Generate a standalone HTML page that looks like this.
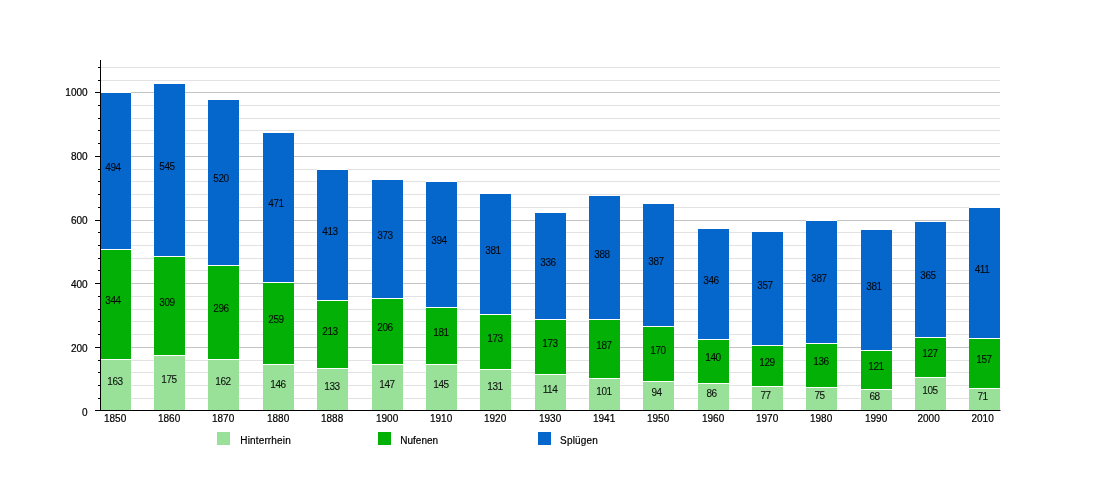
<!DOCTYPE html>
<html><head><meta charset="utf-8"><title>Chart</title>
<style>html,body{margin:0;padding:0;background:#fff}svg{display:block}text{font-family:"Liberation Sans",sans-serif;font-size:10px;fill:#000;stroke:#000;stroke-width:0.2px}text.b{letter-spacing:-0.4px;stroke-width:0.1px;opacity:0.92}</style></head>
<body>
<svg width="1100" height="500" viewBox="0 0 1100 500">
<rect width="1100" height="500" fill="#fff"/>
<line x1="101" x2="1000" y1="398.50" y2="398.50" stroke="#e2e2e2" stroke-width="1"/>
<line x1="101" x2="1000" y1="385.50" y2="385.50" stroke="#e2e2e2" stroke-width="1"/>
<line x1="101" x2="1000" y1="372.50" y2="372.50" stroke="#e2e2e2" stroke-width="1"/>
<line x1="101" x2="1000" y1="360.50" y2="360.50" stroke="#e2e2e2" stroke-width="1"/>
<line x1="101" x2="1000" y1="347.50" y2="347.50" stroke="#c4c4c4" stroke-width="1"/>
<line x1="101" x2="1000" y1="334.50" y2="334.50" stroke="#e2e2e2" stroke-width="1"/>
<line x1="101" x2="1000" y1="321.50" y2="321.50" stroke="#e2e2e2" stroke-width="1"/>
<line x1="101" x2="1000" y1="309.50" y2="309.50" stroke="#e2e2e2" stroke-width="1"/>
<line x1="101" x2="1000" y1="296.50" y2="296.50" stroke="#e2e2e2" stroke-width="1"/>
<line x1="101" x2="1000" y1="283.50" y2="283.50" stroke="#c4c4c4" stroke-width="1"/>
<line x1="101" x2="1000" y1="270.50" y2="270.50" stroke="#e2e2e2" stroke-width="1"/>
<line x1="101" x2="1000" y1="258.50" y2="258.50" stroke="#e2e2e2" stroke-width="1"/>
<line x1="101" x2="1000" y1="245.50" y2="245.50" stroke="#e2e2e2" stroke-width="1"/>
<line x1="101" x2="1000" y1="232.50" y2="232.50" stroke="#e2e2e2" stroke-width="1"/>
<line x1="101" x2="1000" y1="220.50" y2="220.50" stroke="#c4c4c4" stroke-width="1"/>
<line x1="101" x2="1000" y1="207.50" y2="207.50" stroke="#e2e2e2" stroke-width="1"/>
<line x1="101" x2="1000" y1="194.50" y2="194.50" stroke="#e2e2e2" stroke-width="1"/>
<line x1="101" x2="1000" y1="181.50" y2="181.50" stroke="#e2e2e2" stroke-width="1"/>
<line x1="101" x2="1000" y1="169.50" y2="169.50" stroke="#e2e2e2" stroke-width="1"/>
<line x1="101" x2="1000" y1="156.50" y2="156.50" stroke="#c4c4c4" stroke-width="1"/>
<line x1="101" x2="1000" y1="143.50" y2="143.50" stroke="#e2e2e2" stroke-width="1"/>
<line x1="101" x2="1000" y1="130.50" y2="130.50" stroke="#e2e2e2" stroke-width="1"/>
<line x1="101" x2="1000" y1="118.50" y2="118.50" stroke="#e2e2e2" stroke-width="1"/>
<line x1="101" x2="1000" y1="105.50" y2="105.50" stroke="#e2e2e2" stroke-width="1"/>
<line x1="101" x2="1000" y1="92.50" y2="92.50" stroke="#c4c4c4" stroke-width="1"/>
<line x1="101" x2="1000" y1="80.50" y2="80.50" stroke="#e2e2e2" stroke-width="1"/>
<line x1="101" x2="1000" y1="67.50" y2="67.50" stroke="#e2e2e2" stroke-width="1"/>
<rect x="100" y="360" width="31" height="51" fill="#99e099"/>
<rect x="100" y="359" width="31" height="1" fill="#fff"/>
<rect x="100" y="250" width="31" height="109" fill="#03b005"/>
<rect x="100" y="249" width="31" height="1" fill="#fff"/>
<rect x="100" y="93" width="31" height="156" fill="#0566cc"/>
<rect x="100" y="92" width="31" height="1" fill="#fff"/>
<text class="b" x="115.00" y="384.97" text-anchor="middle">163</text>
<text class="b" x="113.00" y="304.31" text-anchor="middle">344</text>
<text class="b" x="113.00" y="170.99" text-anchor="middle">494</text>
<text x="115.10" y="422" text-anchor="middle">1850</text>
<rect x="154" y="356" width="31" height="55" fill="#99e099"/>
<rect x="154" y="355" width="31" height="1" fill="#fff"/>
<rect x="154" y="257" width="31" height="98" fill="#03b005"/>
<rect x="154" y="256" width="31" height="1" fill="#fff"/>
<rect x="154" y="84" width="31" height="172" fill="#0566cc"/>
<rect x="154" y="83" width="31" height="1" fill="#fff"/>
<text class="b" x="169.00" y="383.06" text-anchor="middle">175</text>
<text class="b" x="167.00" y="306.06" text-anchor="middle">309</text>
<text class="b" x="167.00" y="170.20" text-anchor="middle">545</text>
<text x="169.10" y="422" text-anchor="middle">1860</text>
<rect x="208" y="360" width="31" height="51" fill="#99e099"/>
<rect x="208" y="359" width="31" height="1" fill="#fff"/>
<rect x="208" y="266" width="31" height="93" fill="#03b005"/>
<rect x="208" y="265" width="31" height="1" fill="#fff"/>
<rect x="208" y="100" width="31" height="165" fill="#0566cc"/>
<rect x="208" y="99" width="31" height="1" fill="#fff"/>
<text class="b" x="223.00" y="385.13" text-anchor="middle">162</text>
<text class="b" x="221.00" y="312.26" text-anchor="middle">296</text>
<text class="b" x="221.00" y="182.45" text-anchor="middle">520</text>
<text x="223.10" y="422" text-anchor="middle">1870</text>
<rect x="263" y="365" width="31" height="46" fill="#99e099"/>
<rect x="263" y="364" width="31" height="1" fill="#fff"/>
<rect x="263" y="283" width="31" height="81" fill="#03b005"/>
<rect x="263" y="282" width="31" height="1" fill="#fff"/>
<rect x="263" y="133" width="31" height="149" fill="#0566cc"/>
<rect x="263" y="132" width="31" height="1" fill="#fff"/>
<text class="b" x="278.00" y="387.67" text-anchor="middle">146</text>
<text class="b" x="276.00" y="323.24" text-anchor="middle">259</text>
<text class="b" x="276.00" y="207.10" text-anchor="middle">471</text>
<text x="278.10" y="422" text-anchor="middle">1880</text>
<rect x="317" y="369" width="31" height="42" fill="#99e099"/>
<rect x="317" y="368" width="31" height="1" fill="#fff"/>
<rect x="317" y="301" width="31" height="67" fill="#03b005"/>
<rect x="317" y="300" width="31" height="1" fill="#fff"/>
<rect x="317" y="170" width="31" height="130" fill="#0566cc"/>
<rect x="317" y="169" width="31" height="1" fill="#fff"/>
<text class="b" x="332.00" y="389.74" text-anchor="middle">133</text>
<text class="b" x="330.00" y="334.70" text-anchor="middle">213</text>
<text class="b" x="330.00" y="235.10" text-anchor="middle">413</text>
<text x="332.10" y="422" text-anchor="middle">1888</text>
<rect x="372" y="365" width="31" height="46" fill="#99e099"/>
<rect x="372" y="364" width="31" height="1" fill="#fff"/>
<rect x="372" y="299" width="31" height="65" fill="#03b005"/>
<rect x="372" y="298" width="31" height="1" fill="#fff"/>
<rect x="372" y="180" width="31" height="118" fill="#0566cc"/>
<rect x="372" y="179" width="31" height="1" fill="#fff"/>
<text class="b" x="387.00" y="387.51" text-anchor="middle">147</text>
<text class="b" x="385.00" y="331.35" text-anchor="middle">206</text>
<text class="b" x="385.00" y="239.24" text-anchor="middle">373</text>
<text x="387.10" y="422" text-anchor="middle">1900</text>
<rect x="426" y="365" width="31" height="46" fill="#99e099"/>
<rect x="426" y="364" width="31" height="1" fill="#fff"/>
<rect x="426" y="308" width="31" height="56" fill="#03b005"/>
<rect x="426" y="307" width="31" height="1" fill="#fff"/>
<rect x="426" y="182" width="31" height="125" fill="#0566cc"/>
<rect x="426" y="181" width="31" height="1" fill="#fff"/>
<text class="b" x="441.00" y="387.83" text-anchor="middle">145</text>
<text class="b" x="441.00" y="335.97" text-anchor="middle">181</text>
<text class="b" x="439.00" y="244.49" text-anchor="middle">394</text>
<text x="441.10" y="422" text-anchor="middle">1910</text>
<rect x="480" y="370" width="31" height="41" fill="#99e099"/>
<rect x="480" y="369" width="31" height="1" fill="#fff"/>
<rect x="480" y="315" width="31" height="54" fill="#03b005"/>
<rect x="480" y="314" width="31" height="1" fill="#fff"/>
<rect x="480" y="194" width="31" height="120" fill="#0566cc"/>
<rect x="480" y="193" width="31" height="1" fill="#fff"/>
<text class="b" x="495.00" y="390.06" text-anchor="middle">131</text>
<text class="b" x="495.00" y="341.70" text-anchor="middle">173</text>
<text class="b" x="493.00" y="253.56" text-anchor="middle">381</text>
<text x="495.10" y="422" text-anchor="middle">1920</text>
<rect x="535" y="375" width="31" height="36" fill="#99e099"/>
<rect x="535" y="374" width="31" height="1" fill="#fff"/>
<rect x="535" y="320" width="31" height="54" fill="#03b005"/>
<rect x="535" y="319" width="31" height="1" fill="#fff"/>
<rect x="535" y="213" width="31" height="106" fill="#0566cc"/>
<rect x="535" y="212" width="31" height="1" fill="#fff"/>
<text class="b" x="550.00" y="392.76" text-anchor="middle">114</text>
<text class="b" x="550.00" y="347.10" text-anchor="middle">173</text>
<text class="b" x="548.00" y="266.13" text-anchor="middle">336</text>
<text x="550.10" y="422" text-anchor="middle">1930</text>
<rect x="589" y="379" width="31" height="32" fill="#99e099"/>
<rect x="589" y="378" width="31" height="1" fill="#fff"/>
<rect x="589" y="320" width="31" height="58" fill="#03b005"/>
<rect x="589" y="319" width="31" height="1" fill="#fff"/>
<rect x="589" y="196" width="31" height="123" fill="#0566cc"/>
<rect x="589" y="195" width="31" height="1" fill="#fff"/>
<text class="b" x="604.00" y="394.83" text-anchor="middle">101</text>
<text class="b" x="604.00" y="349.01" text-anchor="middle">187</text>
<text class="b" x="602.00" y="257.54" text-anchor="middle">388</text>
<text x="604.10" y="422" text-anchor="middle">1941</text>
<rect x="643" y="382" width="31" height="29" fill="#99e099"/>
<rect x="643" y="381" width="31" height="1" fill="#fff"/>
<rect x="643" y="327" width="31" height="54" fill="#03b005"/>
<rect x="643" y="326" width="31" height="1" fill="#fff"/>
<rect x="643" y="204" width="31" height="122" fill="#0566cc"/>
<rect x="643" y="203" width="31" height="1" fill="#fff"/>
<text class="b" x="656.60" y="395.95" text-anchor="middle">94</text>
<text class="b" x="658.00" y="353.95" text-anchor="middle">170</text>
<text class="b" x="656.00" y="265.33" text-anchor="middle">387</text>
<text x="658.10" y="422" text-anchor="middle">1950</text>
<rect x="698" y="384" width="31" height="27" fill="#99e099"/>
<rect x="698" y="383" width="31" height="1" fill="#fff"/>
<rect x="698" y="340" width="31" height="43" fill="#03b005"/>
<rect x="698" y="339" width="31" height="1" fill="#fff"/>
<rect x="698" y="229" width="31" height="110" fill="#0566cc"/>
<rect x="698" y="228" width="31" height="1" fill="#fff"/>
<text class="b" x="711.60" y="397.22" text-anchor="middle">86</text>
<text class="b" x="713.00" y="361.26" text-anchor="middle">140</text>
<text class="b" x="711.00" y="283.95" text-anchor="middle">346</text>
<text x="713.10" y="422" text-anchor="middle">1960</text>
<rect x="752" y="387" width="31" height="24" fill="#99e099"/>
<rect x="752" y="386" width="31" height="1" fill="#fff"/>
<rect x="752" y="346" width="31" height="40" fill="#03b005"/>
<rect x="752" y="345" width="31" height="1" fill="#fff"/>
<rect x="752" y="232" width="31" height="113" fill="#0566cc"/>
<rect x="752" y="231" width="31" height="1" fill="#fff"/>
<text class="b" x="765.60" y="398.65" text-anchor="middle">77</text>
<text class="b" x="767.00" y="365.88" text-anchor="middle">129</text>
<text class="b" x="765.00" y="288.56" text-anchor="middle">357</text>
<text x="767.10" y="422" text-anchor="middle">1970</text>
<rect x="806" y="388" width="31" height="23" fill="#99e099"/>
<rect x="806" y="387" width="31" height="1" fill="#fff"/>
<rect x="806" y="344" width="31" height="43" fill="#03b005"/>
<rect x="806" y="343" width="31" height="1" fill="#fff"/>
<rect x="806" y="221" width="31" height="122" fill="#0566cc"/>
<rect x="806" y="220" width="31" height="1" fill="#fff"/>
<text class="b" x="819.60" y="398.97" text-anchor="middle">75</text>
<text class="b" x="821.00" y="365.40" text-anchor="middle">136</text>
<text class="b" x="819.00" y="282.20" text-anchor="middle">387</text>
<text x="821.10" y="422" text-anchor="middle">1980</text>
<rect x="861" y="390" width="31" height="21" fill="#99e099"/>
<rect x="861" y="389" width="31" height="1" fill="#fff"/>
<rect x="861" y="351" width="31" height="38" fill="#03b005"/>
<rect x="861" y="350" width="31" height="1" fill="#fff"/>
<rect x="861" y="230" width="31" height="120" fill="#0566cc"/>
<rect x="861" y="229" width="31" height="1" fill="#fff"/>
<text class="b" x="874.60" y="400.08" text-anchor="middle">68</text>
<text class="b" x="876.00" y="370.01" text-anchor="middle">121</text>
<text class="b" x="874.00" y="290.15" text-anchor="middle">381</text>
<text x="876.10" y="422" text-anchor="middle">1990</text>
<rect x="915" y="378" width="31" height="33" fill="#99e099"/>
<rect x="915" y="377" width="31" height="1" fill="#fff"/>
<rect x="915" y="338" width="31" height="39" fill="#03b005"/>
<rect x="915" y="337" width="31" height="1" fill="#fff"/>
<rect x="915" y="222" width="31" height="115" fill="#0566cc"/>
<rect x="915" y="221" width="31" height="1" fill="#fff"/>
<text class="b" x="930.00" y="394.20" text-anchor="middle">105</text>
<text class="b" x="930.00" y="357.29" text-anchor="middle">127</text>
<text class="b" x="928.00" y="279.01" text-anchor="middle">365</text>
<text x="928.60" y="422" text-anchor="middle">2000</text>
<rect x="969" y="389" width="31" height="22" fill="#99e099"/>
<rect x="969" y="388" width="31" height="1" fill="#fff"/>
<rect x="969" y="339" width="31" height="49" fill="#03b005"/>
<rect x="969" y="338" width="31" height="1" fill="#fff"/>
<rect x="969" y="208" width="31" height="130" fill="#0566cc"/>
<rect x="969" y="207" width="31" height="1" fill="#fff"/>
<text class="b" x="982.60" y="399.60" text-anchor="middle">71</text>
<text class="b" x="984.00" y="363.33" text-anchor="middle">157</text>
<text class="b" x="982.00" y="272.97" text-anchor="middle">411</text>
<text x="982.60" y="422" text-anchor="middle">2010</text>
<line x1="100.5" x2="100.5" y1="60" y2="411" stroke="#000" stroke-width="1"/>
<line x1="95" x2="1000.5" y1="410.5" y2="410.5" stroke="#000" stroke-width="1"/>
<line x1="98" x2="100.5" y1="398.50" y2="398.50" stroke="#000" stroke-width="1"/>
<line x1="98" x2="100.5" y1="385.50" y2="385.50" stroke="#000" stroke-width="1"/>
<line x1="98" x2="100.5" y1="372.50" y2="372.50" stroke="#000" stroke-width="1"/>
<line x1="98" x2="100.5" y1="360.50" y2="360.50" stroke="#000" stroke-width="1"/>
<line x1="95" x2="100.5" y1="347.50" y2="347.50" stroke="#000" stroke-width="1"/>
<line x1="98" x2="100.5" y1="334.50" y2="334.50" stroke="#000" stroke-width="1"/>
<line x1="98" x2="100.5" y1="321.50" y2="321.50" stroke="#000" stroke-width="1"/>
<line x1="98" x2="100.5" y1="309.50" y2="309.50" stroke="#000" stroke-width="1"/>
<line x1="98" x2="100.5" y1="296.50" y2="296.50" stroke="#000" stroke-width="1"/>
<line x1="95" x2="100.5" y1="283.50" y2="283.50" stroke="#000" stroke-width="1"/>
<line x1="98" x2="100.5" y1="270.50" y2="270.50" stroke="#000" stroke-width="1"/>
<line x1="98" x2="100.5" y1="258.50" y2="258.50" stroke="#000" stroke-width="1"/>
<line x1="98" x2="100.5" y1="245.50" y2="245.50" stroke="#000" stroke-width="1"/>
<line x1="98" x2="100.5" y1="232.50" y2="232.50" stroke="#000" stroke-width="1"/>
<line x1="95" x2="100.5" y1="220.50" y2="220.50" stroke="#000" stroke-width="1"/>
<line x1="98" x2="100.5" y1="207.50" y2="207.50" stroke="#000" stroke-width="1"/>
<line x1="98" x2="100.5" y1="194.50" y2="194.50" stroke="#000" stroke-width="1"/>
<line x1="98" x2="100.5" y1="181.50" y2="181.50" stroke="#000" stroke-width="1"/>
<line x1="98" x2="100.5" y1="169.50" y2="169.50" stroke="#000" stroke-width="1"/>
<line x1="95" x2="100.5" y1="156.50" y2="156.50" stroke="#000" stroke-width="1"/>
<line x1="98" x2="100.5" y1="143.50" y2="143.50" stroke="#000" stroke-width="1"/>
<line x1="98" x2="100.5" y1="130.50" y2="130.50" stroke="#000" stroke-width="1"/>
<line x1="98" x2="100.5" y1="118.50" y2="118.50" stroke="#000" stroke-width="1"/>
<line x1="98" x2="100.5" y1="105.50" y2="105.50" stroke="#000" stroke-width="1"/>
<line x1="95" x2="100.5" y1="92.50" y2="92.50" stroke="#000" stroke-width="1"/>
<line x1="98" x2="100.5" y1="80.50" y2="80.50" stroke="#000" stroke-width="1"/>
<line x1="98" x2="100.5" y1="67.50" y2="67.50" stroke="#000" stroke-width="1"/>
<text x="87.6" y="415.50" text-anchor="end">0</text>
<text x="87.6" y="351.62" text-anchor="end">200</text>
<text x="87.6" y="287.74" text-anchor="end">400</text>
<text x="87.6" y="223.86" text-anchor="end">600</text>
<text x="87.6" y="159.98" text-anchor="end">800</text>
<text x="87.6" y="96.10" text-anchor="end">1000</text>
<rect x="217" y="432" width="13" height="13" fill="#99e099"/>
<text x="240.3" y="443.8" style="letter-spacing:0.15px">Hinterrhein</text>
<rect x="378" y="432" width="13" height="13" fill="#03b005"/>
<text x="400.3" y="443.8" style="letter-spacing:0.00px">Nufenen</text>
<rect x="538" y="432" width="13" height="13" fill="#0566cc"/>
<text x="560.1" y="443.8" style="letter-spacing:0.17px">Splügen</text>
</svg>
</body></html>
